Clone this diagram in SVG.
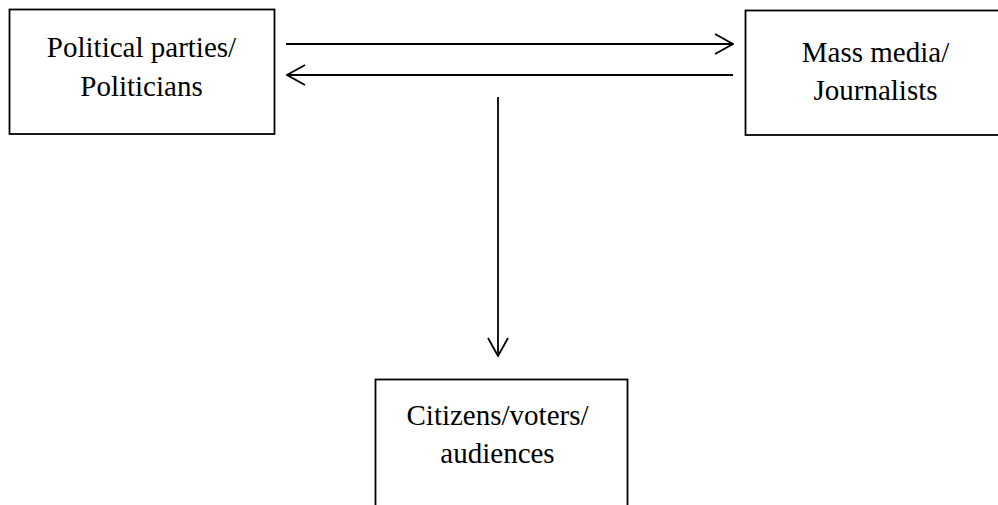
<svg xmlns="http://www.w3.org/2000/svg" width="998" height="505" viewBox="0 0 998 505">
<style>
.box{fill:#fff;stroke:#000;stroke-width:1.8}
.lbl{font-family:"Liberation Serif","Times New Roman",serif;font-size:29px;fill:#000;text-anchor:middle}
.conn{stroke:#000;stroke-width:1.8;fill:none}
.head{stroke:#000;stroke-width:1.8;fill:none}
</style>
<defs>
<marker id="arr" viewBox="0 0 20 22" refX="19" refY="11" markerWidth="20" markerHeight="22" markerUnits="userSpaceOnUse" orient="auto">
<path d="M1,1 L19,11 L1,21" class="head"/>
</marker>
</defs>
<rect width="998" height="505" fill="#fff"/>
<g id="node-parties">
<rect class="box" x="9.5" y="9.5" width="265" height="124.5"/>
<text class="lbl" x="141.5" y="57">Political parties/</text>
<text class="lbl" x="141.5" y="96">Politicians</text>
</g>
<g id="node-media">
<rect class="box" x="745.5" y="10.5" width="262" height="124.5"/>
<text class="lbl" x="875.5" y="62">Mass media/</text>
<text class="lbl" x="875.5" y="100">Journalists</text>
</g>
<g id="node-citizens">
<rect class="box" x="375.5" y="379.5" width="252" height="140"/>
<text class="lbl" x="497.5" y="425">Citizens/voters/</text>
<text class="lbl" x="497.5" y="463">audiences</text>
</g>
<g id="connectors">
<line class="conn" x1="286" y1="44" x2="733" y2="44" marker-end="url(#arr)"/>
<line class="conn" x1="733" y1="75" x2="287" y2="75" marker-end="url(#arr)"/>
<line class="conn" x1="498" y1="97" x2="498" y2="356" marker-end="url(#arr)"/>
</g>
</svg>
